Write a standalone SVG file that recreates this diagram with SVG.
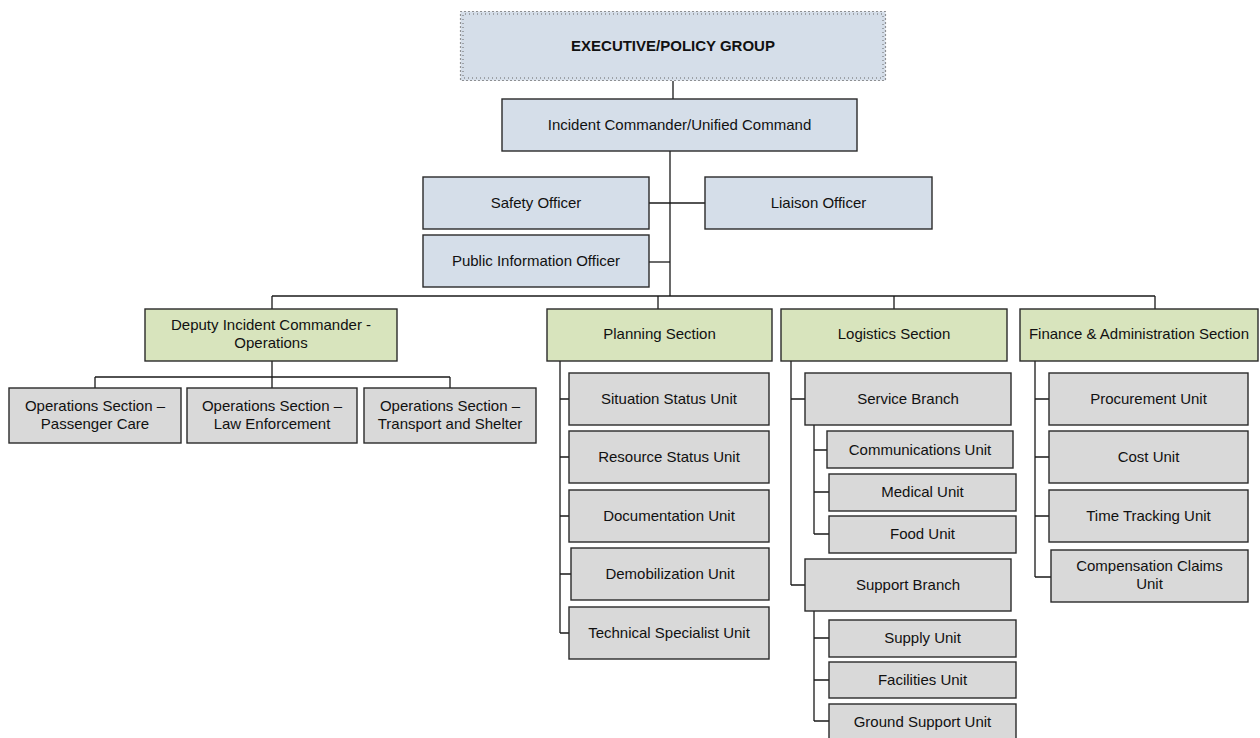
<svg xmlns="http://www.w3.org/2000/svg" width="1260" height="738" viewBox="0 0 1260 738">
<style>
rect.b{stroke:#2a2a2a;stroke-width:1.4}
.blue{fill:#d5dee9}
.green{fill:#d8e4bd}
.grey{fill:#d9d9d9}
text{font-family:"Liberation Sans",Arial,sans-serif;font-size:15px;fill:#111;text-anchor:middle}
text.bold{font-weight:bold}
#connectors path{fill:none;stroke:#1a1a1a;stroke-width:1.3}
</style>
<rect width="1260" height="738" fill="#ffffff"/>
<g id="connectors">
<path d="M673 81V99"/>
<path d="M670 151V296"/>
<path d="M649 203H705"/>
<path d="M649 262H670"/>
<path d="M272 296H1155"/>
<path d="M272 296V309M658 296V309M894 296V309M1155 296V309"/>
<path d="M272 361V377M95 377H450M95 377V388M272 377V388M450 377V388"/>
<path d="M560 361V633M560 399H569M560 457H569M560 516H569M560 574H571M560 633H569"/>
<path d="M791 361V585M791 399H805M791 585H805"/>
<path d="M814 425V534M814 450H827M814 492H829M814 534H829"/>
<path d="M814 611V721M814 638H829M814 680H829M814 721H829"/>
<path d="M1035 361V577M1035 399H1049M1035 457H1049M1035 516H1049M1035 577H1051"/>
</g>
<g id="exec">
<rect x="460.5" y="11.5" width="425" height="69" class="blue"/>
<rect x="460.5" y="11.5" width="425" height="69" fill="none" stroke="#333" stroke-width="1.2" stroke-dasharray="1 3"/>
<rect x="463" y="14" width="420" height="64" fill="none" stroke="#666" stroke-width="1" stroke-dasharray="1 3" stroke-dashoffset="2"/>
<text x="673" y="51" class="bold">EXECUTIVE/POLICY GROUP</text>
</g>
<g id="ic"><rect x="502" y="99" width="355" height="52" class="b blue"/><text x="679.5" y="130">Incident Commander/Unified Command</text></g>
<g id="safety"><rect x="423" y="177" width="226" height="52" class="b blue"/><text x="536" y="208">Safety Officer</text></g>
<g id="liaison"><rect x="705" y="177" width="227" height="52" class="b blue"/><text x="818.5" y="208">Liaison Officer</text></g>
<g id="pio"><rect x="423" y="235" width="226" height="52" class="b blue"/><text x="536" y="266">Public Information Officer</text></g>
<g id="deputy"><rect x="145" y="309" width="252" height="52" class="b green"/><text x="271" y="330">Deputy Incident Commander -</text><text x="271" y="348">Operations</text></g>
<g id="planning"><rect x="547" y="309" width="225" height="52" class="b green"/><text x="659.5" y="339">Planning Section</text></g>
<g id="logistics"><rect x="781" y="309" width="226" height="52" class="b green"/><text x="894" y="339">Logistics Section</text></g>
<g id="finance"><rect x="1020" y="309" width="238" height="52" class="b green"/><text x="1139" y="339">Finance &amp; Administration Section</text></g>
<g id="ops-pc"><rect x="9" y="388" width="172" height="55" class="b grey"/><text x="95" y="411">Operations Section –</text><text x="95" y="429">Passenger Care</text></g>
<g id="ops-le"><rect x="187" y="388" width="170" height="55" class="b grey"/><text x="272" y="411">Operations Section –</text><text x="272" y="429">Law Enforcement</text></g>
<g id="ops-ts"><rect x="364" y="388" width="172" height="55" class="b grey"/><text x="450" y="411">Operations Section –</text><text x="450" y="429">Transport and Shelter</text></g>
<g id="situation"><rect x="569" y="373" width="200" height="52" class="b grey"/><text x="669" y="404">Situation Status Unit</text></g>
<g id="resource"><rect x="569" y="431" width="200" height="52" class="b grey"/><text x="669" y="462">Resource Status Unit</text></g>
<g id="documentation"><rect x="569" y="490" width="200" height="52" class="b grey"/><text x="669" y="521">Documentation Unit</text></g>
<g id="demobilization"><rect x="571" y="548" width="198" height="52" class="b grey"/><text x="670" y="579">Demobilization Unit</text></g>
<g id="technical"><rect x="569" y="607" width="200" height="52" class="b grey"/><text x="669" y="638">Technical Specialist Unit</text></g>
<g id="service"><rect x="805" y="373" width="206" height="52" class="b grey"/><text x="908" y="404">Service Branch</text></g>
<g id="communications"><rect x="827" y="431" width="186" height="37" class="b grey"/><text x="920" y="455">Communications Unit</text></g>
<g id="medical"><rect x="829" y="474" width="187" height="37" class="b grey"/><text x="922.5" y="497">Medical Unit</text></g>
<g id="food"><rect x="829" y="516" width="187" height="37" class="b grey"/><text x="922.5" y="539">Food Unit</text></g>
<g id="support"><rect x="805" y="559" width="206" height="52" class="b grey"/><text x="908" y="590">Support Branch</text></g>
<g id="supply"><rect x="829" y="620" width="187" height="37" class="b grey"/><text x="922.5" y="643">Supply Unit</text></g>
<g id="facilities"><rect x="829" y="662" width="187" height="36" class="b grey"/><text x="922.5" y="685">Facilities Unit</text></g>
<g id="ground"><rect x="829" y="704" width="187" height="38" class="b grey"/><text x="922.5" y="727">Ground Support Unit</text></g>
<g id="procurement"><rect x="1049" y="373" width="199" height="52" class="b grey"/><text x="1148.5" y="404">Procurement Unit</text></g>
<g id="cost"><rect x="1049" y="431" width="199" height="52" class="b grey"/><text x="1148.5" y="462">Cost Unit</text></g>
<g id="time"><rect x="1049" y="490" width="199" height="52" class="b grey"/><text x="1148.5" y="521">Time Tracking Unit</text></g>
<g id="compensation"><rect x="1051" y="550" width="197" height="52" class="b grey"/><text x="1149.5" y="571">Compensation Claims</text><text x="1149.5" y="589">Unit</text></g>
</svg>
